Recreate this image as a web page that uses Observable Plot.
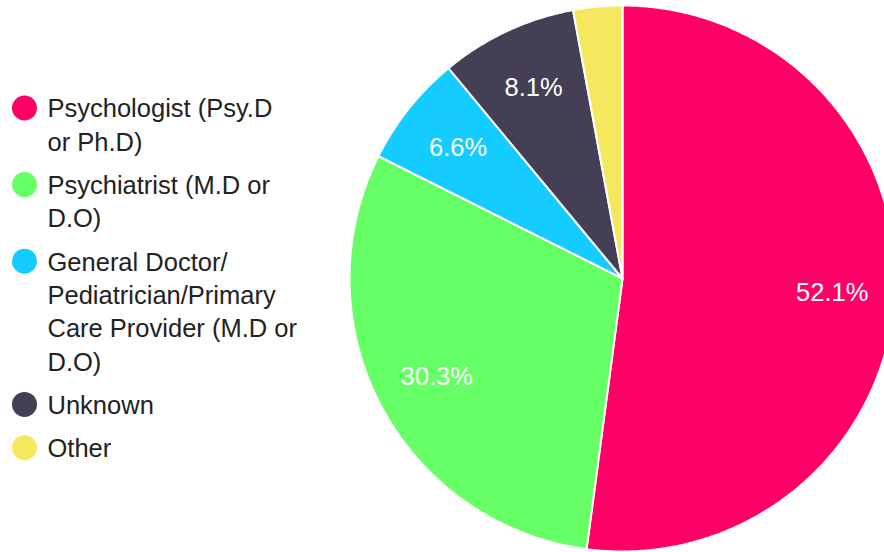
<!DOCTYPE html>
<html>
<head>
<meta charset="utf-8">
<script src="https://cdn.jsdelivr.net/npm/d3@7"></script>
<script src="https://cdn.jsdelivr.net/npm/@observablehq/plot@0.6"></script>
<style>
  html, body { margin: 0; padding: 0; background: #fff; overflow: hidden; }
  #chart svg { display: block; overflow: hidden; }
</style>
</head>
<body>
<div id="chart"></div>
<script>
// ---- Data ----
const categories = [
  "Psychologist (Psy.D or Ph.D)",
  "Psychiatrist (M.D or D.O)",
  "General Doctor/Pediatrician/Primary Care Provider (M.D or D.O)",
  "Unknown",
  "Other"
];
const legendLabels = [
  "Psychologist (Psy.D\nor Ph.D)",
  "Psychiatrist (M.D or\nD.O)",
  "General Doctor/\nPediatrician/Primary\nCare Provider (M.D or\nD.O)",
  "Unknown",
  "Other"
];
const values = [52.1, 30.3, 6.6, 8.1, 2.9];
const showLabel = [true, true, true, true, false];
const colors = ["#ff0066", "#66ff66", "#14ccff", "#443f55", "#f5e85f"];

// ---- Layout ----
const W = 884, H = 552;
const cx = 622, cy = 278, R = 273;
const labelR = 0.77 * R;
const fs = 25.5;

const pie = d3.pie().sort(null).value(d => d)(values);

// polygon points for each slice (geometry of the arc)
const slicePts = [];
pie.forEach((p, i) => {
  const a0 = p.startAngle, a1 = p.endAngle;
  const n = Math.max(2, Math.ceil((a1 - a0) / (Math.PI / 360)));
  slicePts.push({cat: categories[i], x: cx, y: cy});
  for (let k = 0; k <= n; k++) {
    const a = a0 + (a1 - a0) * k / n;
    slicePts.push({cat: categories[i], x: cx + R * Math.sin(a), y: cy - R * Math.cos(a)});
  }
  slicePts.push({cat: categories[i], x: cx, y: cy});
});

const sliceLabels = pie.map((p, i) => {
  const a = (p.startAngle + p.endAngle) / 2;
  return {cat: categories[i], show: showLabel[i], text: values[i].toFixed(1) + "%",
          x: cx + labelR * Math.sin(a), y: cy - labelR * Math.cos(a)};
}).filter(d => d.show);

// legend layout
const lineH = 33.3, gap = 10, legendTop = 107.5, dotX = 24, textX = 47;
let yy = legendTop;
const legend = categories.map((c, i) => {
  const lines = legendLabels[i].split("\n").length;
  const item = {cat: c, label: legendLabels[i], y: yy};
  yy += lines * lineH + gap;
  return item;
});

const chart = Plot.plot({
  width: W, height: H,
  margin: 0,
  x: {domain: [0, W], range: [0, W], axis: null},
  y: {domain: [0, H], range: [0, H], axis: null},
  color: {domain: categories, range: colors},
  style: {fontFamily: "'Liberation Sans', Arial, sans-serif", background: "#fff"},
  marks: [
    Plot.line(slicePts, {x: "x", y: "y", z: "cat", fill: "cat", stroke: "#fff",
      strokeWidth: 2, strokeLinejoin: "round", curve: "linear", clip: true}),
    Plot.text(sliceLabels, {x: "x", y: "y", text: "text", fill: "#fff", fontSize: fs,
      textAnchor: "middle", lineAnchor: "middle"}),
    Plot.dot(legend, {x: () => dotX, y: "y", r: 12.5, fill: "cat", stroke: null}),
    Plot.text(legend, {x: () => textX, y: "y", text: "label", fill: "#222", fontSize: fs,
      textAnchor: "start", lineAnchor: "top", dy: 9.5 - 0.71 * lineH, lineHeight: lineH / fs})
  ]
});
document.getElementById("chart").appendChild(chart);
</script>
</body>
</html>
